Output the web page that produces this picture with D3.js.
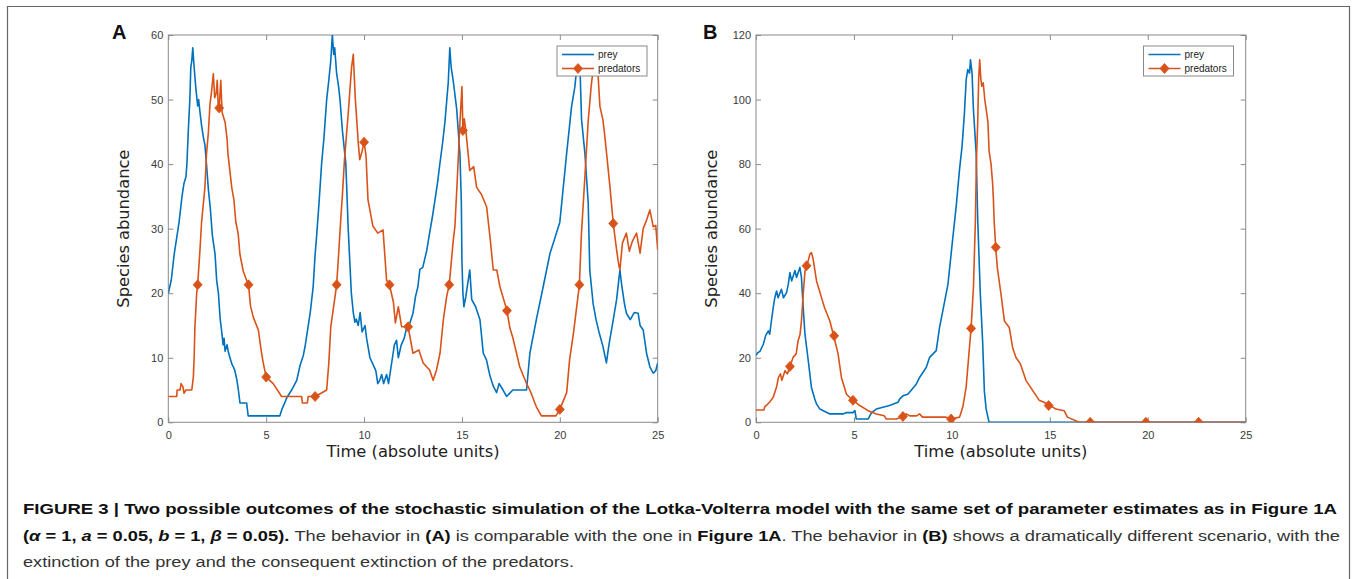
<!DOCTYPE html>
<html><head><meta charset="utf-8">
<script src="https://cdn.jsdelivr.net/npm/d3@7"></script>
<style>
html,body{margin:0;padding:0;background:#fff;}
svg{display:block;}
</style></head>
<body>
<svg id="chart" width="1357" height="579"></svg>
<script>
// ---------- DATA ----------
const xTicks = [0, 5, 10, 15, 20, 25];
const yTicksA = [0, 10, 20, 30, 40, 50, 60];
const yTicksB = [0, 20, 40, 60, 80, 100, 120];
const seriesNames = ["prey", "predators"];

const preyA = [[0,20],[0.15,22],[0.3,26],[0.45,29],[0.55,31],[0.7,35],[0.8,37],[0.9,38],[0.95,40],[1.02,45],[1.1,50],[1.15,55],[1.2,56],[1.25,58],[1.32,55],[1.4,52],[1.5,49],[1.55,50],[1.62,48],[1.7,46],[1.8,44],[1.87,43],[1.95,40],[2.05,36],[2.15,33],[2.25,29],[2.39,26],[2.47,22],[2.56,20],[2.65,16],[2.73,14],[2.8,12],[2.85,13],[2.9,11],[3.0,12],[3.06,11],[3.15,10],[3.25,9],[3.32,8.6],[3.4,8],[3.5,6.6],[3.58,5],[3.66,3],[4.0,3],[4.08,1],[5.7,1],[5.8,2],[5.95,3],[6.05,3.8],[6.3,5],[6.56,6.5],[6.73,8.8],[6.9,10.4],[7.0,12],[7.1,14],[7.25,17],[7.4,21],[7.5,26],[7.58,29],[7.7,34],[7.83,40],[7.95,44],[8.09,50],[8.2,53],[8.3,56],[8.38,60],[8.45,57],[8.5,58],[8.6,54],[8.7,52],[8.77,50],[8.9,45],[9.07,40],[9.19,30],[9.35,20],[9.45,17],[9.53,15.5],[9.6,16],[9.7,15],[9.8,17],[9.9,14],[10.05,15],[10.13,13],[10.3,10],[10.45,9],[10.6,8],[10.7,6],[10.8,6.5],[10.9,7.4],[11.0,6],[11.15,7.4],[11.25,6],[11.45,10],[11.55,12],[11.66,12.7],[11.75,10],[11.9,12],[12.05,13],[12.17,14.6],[12.3,15],[12.5,16.9],[12.63,19.5],[12.75,21],[12.85,23.7],[13.0,24],[13.2,26.6],[13.37,29.7],[13.5,32],[13.6,34],[13.75,37],[13.87,40],[14.0,43],[14.13,46.5],[14.3,52.6],[14.38,58],[14.45,55],[14.55,53],[14.73,48.6],[14.9,41.4],[14.97,34],[15.0,25],[15.05,20],[15.1,17.9],[15.2,19.5],[15.4,23.6],[15.5,19],[15.7,17.9],[15.92,15.9],[16.09,10.7],[16.25,9.7],[16.43,7.2],[16.6,5.6],[16.77,4.6],[16.9,6],[17.1,5],[17.28,4],[17.6,5],[18.3,5],[18.47,10.7],[18.8,15.9],[19.15,21],[19.5,26.2],[19.66,27.7],[20.0,31],[20.18,36.5],[20.35,41.7],[20.6,48.9],[20.77,52],[20.9,56],[21.0,58],[21.11,46.9],[21.28,41.7],[21.45,34],[21.53,23.6],[21.7,18.4],[21.85,15.9],[22.0,14],[22.2,11.8],[22.38,9.2],[22.5,11.8],[22.73,15.9],[22.9,19],[23.07,23.6],[23.15,21.5],[23.3,18.4],[23.4,16.9],[23.6,15.9],[23.8,17],[24.0,16.9],[24.1,15],[24.26,14.3],[24.43,10.7],[24.6,8.6],[24.77,7.6],[24.9,8],[25,9.2]];

const predA = [[0,4],[0.43,4],[0.45,5],[0.6,5],[0.65,6],[0.75,5.5],[0.8,4.5],[0.9,5],[1.2,5],[1.28,7],[1.32,10],[1.36,14.8],[1.45,20],[1.5,21.3],[1.62,26.8],[1.7,31],[1.87,36.4],[1.95,41.5],[2.05,45],[2.13,49.3],[2.2,51],[2.3,54],[2.37,50.3],[2.45,51],[2.5,53],[2.55,49],[2.6,48.7],[2.68,53],[2.75,48],[2.9,46.5],[3.0,44],[3.05,41.5],[3.24,36.4],[3.35,34.5],[3.45,31],[3.57,29.2],[3.66,26],[3.83,23.4],[4.0,22],[4.1,21.3],[4.2,18],[4.34,16.3],[4.6,14.3],[4.75,11],[4.85,9.2],[5.0,7],[5.36,6],[5.79,4],[6.81,4],[6.85,3],[7.1,3],[7.15,4],[7.5,4],[7.8,4.5],[8.09,5],[8.2,9.2],[8.3,14.8],[8.6,21.3],[8.7,26],[8.8,31],[8.9,35.5],[9.0,40.7],[9.19,47.8],[9.36,54.9],[9.45,57],[9.55,50.3],[9.7,43.4],[9.78,40.7],[9.9,42],[10.0,43.4],[10.1,41.3],[10.2,34.5],[10.45,30.4],[10.7,29.3],[10.97,29.8],[11.15,22],[11.3,21.3],[11.5,18.6],[11.6,15.4],[11.75,17.9],[11.92,14.8],[12.25,14.8],[12.5,10.7],[12.8,11.2],[13.02,9.2],[13.35,8.1],[13.53,6.5],[13.7,8.1],[13.88,10.7],[14.05,15.9],[14.22,19.5],[14.35,21.3],[14.56,28.3],[14.64,30.3],[14.76,37.5],[14.9,46.5],[15.0,52],[15.05,45.2],[15.12,47],[15.2,45.2],[15.4,39],[15.6,39.6],[15.75,36.4],[16.0,35.3],[16.26,33.4],[16.45,28.2],[16.6,23.6],[16.78,23.6],[16.94,21],[17.3,17.3],[17.45,14.6],[17.6,13.1],[17.79,10.7],[17.95,8.6],[18.3,6],[18.47,5],[18.8,2.4],[19.06,1],[19.8,1],[20,2],[20.35,4.6],[20.5,9.7],[20.7,13.9],[21,21.3],[21.1,29],[21.25,36.5],[21.45,46.7],[21.6,52],[21.75,56],[21.95,54],[22.05,48.9],[22.2,46.9],[22.3,44.3],[22.56,36.5],[22.73,30.8],[22.9,26.7],[23.0,24.6],[23.07,23.6],[23.2,27.8],[23.4,29.3],[23.55,26.5],[23.7,28],[23.92,29.3],[24.1,26.2],[24.26,30],[24.43,31.3],[24.6,32.9],[24.77,30.3],[24.9,30.5],[25,26.7]];

const markA = [[1.5,21.3],[2.6,48.7],[4.1,21.3],[5.0,7],[7.5,4],[8.6,21.3],[10.0,43.4],[11.3,21.3],[12.25,14.8],[14.35,21.3],[15.05,45.2],[17.3,17.3],[20.0,2],[21.0,21.3],[22.73,30.8]];

const preyB = [[0,20.8],[0.1,21.6],[0.2,22],[0.37,24.1],[0.5,27],[0.63,28.3],[0.7,27.3],[0.8,32],[0.88,35.5],[0.96,38.6],[1.05,40.7],[1.13,38.6],[1.3,41.2],[1.4,38.6],[1.56,40.2],[1.65,42.8],[1.73,46.4],[1.82,43.8],[1.99,47],[2.07,44.9],[2.24,48],[2.32,44.9],[2.41,35.5],[2.5,27.3],[2.67,19],[2.83,10.8],[3.0,7.2],[3.09,5.7],[3.26,4.1],[3.77,2.6],[4.45,2.6],[4.62,3],[4.95,3],[5.05,3.6],[5.12,1],[5.72,1],[5.9,3],[6.14,4.1],[6.82,5.2],[7.25,6.2],[7.33,7.2],[7.5,8.2],[7.75,8.7],[8.18,11.8],[8.35,13.9],[8.69,17],[8.86,20.1],[9.2,22.2],[9.37,29.4],[9.54,34.6],[9.8,42.8],[10.05,57.3],[10.22,66.9],[10.39,78.3],[10.52,85.5],[10.64,95.8],[10.73,106.2],[10.81,109.3],[10.9,108.2],[10.95,112.3],[11.03,108.2],[11.1,96.9],[11.24,83.4],[11.28,73.1],[11.32,62.7],[11.45,40],[11.57,25],[11.66,9.5],[11.75,4.1],[11.9,0],[25,0]];

const predB = [[0,3.8],[0.4,3.8],[0.45,4.8],[0.54,5.3],[0.7,6.3],[0.88,7.8],[1.05,10.9],[1.15,14],[1.25,15],[1.32,13],[1.48,16],[1.6,15],[1.73,17.3],[1.9,20.2],[2.05,21.2],[2.15,25.3],[2.25,27.3],[2.32,31.4],[2.41,39.7],[2.5,46.9],[2.58,48],[2.75,52.1],[2.83,52.6],[2.92,50.5],[3.09,43.8],[3.34,38.7],[3.5,35.5],[3.77,31.4],[3.99,26.2],[4.19,21.2],[4.36,13.9],[4.62,8.7],[4.95,6.8],[5.3,5.2],[5.72,3.6],[6.14,2.6],[6.55,2],[6.65,1],[7.16,1],[7.5,1.8],[7.67,2.6],[7.85,2],[8.2,2],[8.35,2.6],[8.5,1.6],[9.71,1.6],[9.96,1],[10.39,1.6],[10.56,4.8],[10.73,11],[10.87,21.2],[10.98,29.1],[11.1,41.7],[11.2,62.5],[11.25,80],[11.32,93.4],[11.37,106.8],[11.42,112.3],[11.48,106.2],[11.53,104.1],[11.6,105.2],[11.68,100],[11.75,97],[11.84,93],[11.9,84],[12.0,80],[12.08,74],[12.12,69],[12.16,62],[12.24,54.2],[12.32,47.9],[12.51,39.6],[12.68,31.4],[12.93,29.4],[13.1,23.2],[13.27,20.1],[13.5,18.1],[13.78,13],[14.12,9.9],[14.46,6.8],[14.7,6.2],[14.94,5.5],[15.31,4.1],[15.73,3.6],[15.9,1.6],[16.5,0],[25,0]];

const markB = [[1.73,17.3],[2.58,48.5],[3.99,26.8],[4.95,6.8],[7.5,1.8],[9.96,1],[10.98,29.1],[12.24,54.2],[14.94,5.2],[17.06,0],[19.9,0],[22.6,0]];

// ---------- DRAW ----------
const svg = d3.select("#chart");
svg.append("rect").attr("width",1357).attr("height",579).attr("fill","#fff");
// outer frame
svg.append("path").attr("d","M7.5,585V6.5H1349.5V585").attr("fill","none").attr("stroke","#666").attr("stroke-width",1.2);

const PREY = "#0072BD", PRED = "#D95319";
const AX = "#8a8a8a", TXT = "#3a3a3a";
const diamond = "M0,-5L4.5,0L0,5L-4.5,0Z";

function panel(cfg) {
  const x = d3.scaleLinear().domain([0,25]).range([cfg.left, cfg.right]);
  const y = d3.scaleLinear().domain([0,cfg.ymax]).range([cfg.bottom, cfg.top]);
  const g = svg.append("g");
  const clipId = "clip" + cfg.id;
  svg.append("clipPath").attr("id", clipId).append("rect")
    .attr("x", cfg.left).attr("y", cfg.top)
    .attr("width", cfg.right - cfg.left).attr("height", cfg.bottom - cfg.top);

  const styleAxis = sel => {
    sel.select(".domain").remove();
    sel.selectAll(".tick line").attr("stroke", AX);
    sel.selectAll(".tick text").attr("fill", TXT)
      .style("font-family", "'Liberation Sans', Arial, Helvetica, sans-serif")
      .style("font-size", "11px");
  };
  g.append("g").attr("transform", `translate(0,${cfg.bottom})`)
    .call(d3.axisBottom(x).tickValues(xTicks).tickSizeInner(-5).tickSizeOuter(0).tickPadding(9))
    .call(styleAxis);
  g.append("g").attr("transform", `translate(0,${cfg.top})`)
    .call(d3.axisTop(x).tickValues(xTicks).tickSizeInner(-5).tickSizeOuter(0).tickFormat(""))
    .call(styleAxis);
  g.append("g").attr("transform", `translate(${cfg.left},0)`)
    .call(d3.axisLeft(y).tickValues(cfg.yTicks).tickSizeInner(-5).tickSizeOuter(0).tickPadding(5))
    .call(styleAxis);
  g.append("g").attr("transform", `translate(${cfg.right},0)`)
    .call(d3.axisRight(y).tickValues(cfg.yTicks).tickSizeInner(-5).tickSizeOuter(0).tickFormat(""))
    .call(styleAxis);

  g.append("rect").attr("x", cfg.left).attr("y", cfg.top)
    .attr("width", cfg.right - cfg.left).attr("height", cfg.bottom - cfg.top)
    .attr("fill", "none").attr("stroke", AX).attr("stroke-width", 1);

  const line = d3.line().x(d => x(d[0])).y(d => y(d[1]));
  const plot = g.append("g").attr("clip-path", `url(#${clipId})`);
  plot.append("path").datum(cfg.prey).attr("d", line)
    .attr("fill","none").attr("stroke",PREY).attr("stroke-width",1.6).attr("stroke-linejoin","round");
  plot.append("path").datum(cfg.pred).attr("d", line)
    .attr("fill","none").attr("stroke",PRED).attr("stroke-width",1.6).attr("stroke-linejoin","round");
  plot.selectAll(".mk").data(cfg.marks).join("path")
    .attr("d", diamond).attr("transform", d => `translate(${x(d[0])},${y(d[1])})`)
    .attr("fill", PRED).attr("stroke", PRED).attr("stroke-width", 0.8);

  // axis titles
  g.append("text").attr("x", (cfg.left + cfg.right) / 2).attr("y", 457)
    .attr("text-anchor","middle").attr("fill","#222")
    .style("font-family","'DejaVu Sans', Verdana, sans-serif").style("font-size","15px")
    .attr("textLength", 173).attr("lengthAdjust","spacingAndGlyphs")
    .text("Time (absolute units)");
  g.append("text").attr("transform", `translate(${cfg.left - 39},${(cfg.top + cfg.bottom) / 2}) rotate(-90)`)
    .attr("text-anchor","middle").attr("fill","#222")
    .style("font-family","'DejaVu Sans', Verdana, sans-serif").style("font-size","15px")
    .attr("textLength", 158).attr("lengthAdjust","spacingAndGlyphs")
    .text("Species abundance");
  // panel letter
  g.append("text").attr("x", cfg.letterX).attr("y", 39).attr("fill","#111")
    .style("font-family","'Liberation Sans', Arial, sans-serif").style("font-size","20px").style("font-weight","bold")
    .text(cfg.id);

  // legend
  const lg = g.append("g").attr("transform", `translate(${cfg.legX},46)`);
  lg.append("rect").attr("width", 90).attr("height", 30).attr("fill","#fff").attr("stroke","#8a8a8a").attr("stroke-width",1);
  const rows = [{name: seriesNames[0], c: PREY, m: false, yy: 8.5}, {name: seriesNames[1], c: PRED, m: true, yy: 22.5}];
  rows.forEach(r => {
    lg.append("line").attr("x1", 5).attr("x2", 37).attr("y1", r.yy).attr("y2", r.yy).attr("stroke", r.c).attr("stroke-width", 1.6);
    if (r.m) lg.append("path").attr("d", diamond).attr("transform", `translate(21,${r.yy})`).attr("fill", r.c).attr("stroke", r.c).attr("stroke-width",0.8);
    lg.append("text").attr("x", 41).attr("y", r.yy).attr("dy","0.35em").attr("fill","#222")
      .style("font-family","'Liberation Sans', Arial, sans-serif").style("font-size","10px").text(r.name);
  });
}

panel({id:"A", left:168.3, right:657.7, top:35, bottom:422.3, ymax:60, yTicks:yTicksA, prey:preyA, pred:predA, marks:markA, letterX:112, legX:557});
panel({id:"B", left:756, right:1245.7, top:35, bottom:422.3, ymax:120, yTicks:yTicksB, prey:preyB, pred:predB, marks:markB, letterX:703, legX:1143.5});

// ---------- CAPTION ----------
const capFont = "'Liberation Sans Narrow', 'Arial Narrow', 'Liberation Sans', Arial, sans-serif";
function capLine(yPos, len, parts) {
  const t = svg.append("text").attr("x", 23).attr("y", yPos)
    .style("font-family", capFont).style("font-size", "15.5px");
  if (len) t.attr("textLength", len).attr("lengthAdjust", "spacingAndGlyphs");
  parts.forEach(p => {
    const s = t.append("tspan").text(p.t).attr("fill", p.b ? "#111" : "#333");
    if (p.b) s.style("font-weight", "bold");
    if (p.i) s.style("font-style", "italic");
  });
}
capLine(514, 1314, [{t:"FIGURE 3 | Two possible outcomes of the stochastic simulation of the Lotka-Volterra model with the same set of parameter estimates as in Figure 1A", b:true}]);
capLine(541, 1317, [
  {t:"(", b:true},{t:"α", b:true, i:true},{t:" = 1, ", b:true},{t:"a", b:true, i:true},{t:" = 0.05, ", b:true},
  {t:"b", b:true, i:true},{t:" = 1, ", b:true},{t:"β", b:true, i:true},{t:" = 0.05).", b:true},
  {t:" The behavior in "},{t:"(A)", b:true},{t:" is comparable with the one in "},{t:"Figure 1A", b:true},
  {t:". The behavior in "},{t:"(B)", b:true},{t:" shows a dramatically different scenario, with the"}
]);
capLine(567, 551, [{t:"extinction of the prey and the consequent extinction of the predators."}]);
</script>
</body></html>
